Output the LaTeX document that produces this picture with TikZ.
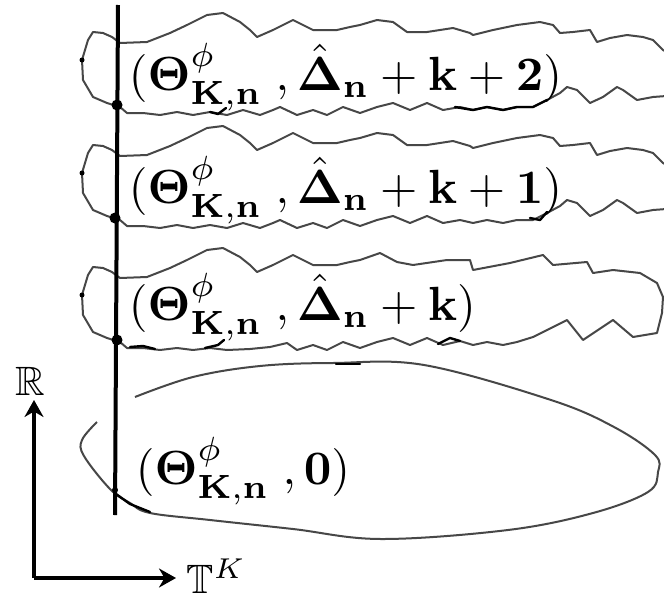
\documentclass[tikz,border=0pt]{standalone}
\usepackage{amsmath,amssymb,bm}
\usetikzlibrary{arrows.meta}
\begin{document}
\begin{tikzpicture}[x=1pt,y=-1pt,
  blob/.style={draw=black!72, line width=2pt, line join=round},
  ink/.style={draw=black, line width=2.4pt, line join=round, line cap=round},
  axis/.style={draw=black, line width=4.5pt, -{Stealth[length=17pt,width=19pt]}},
  lab/.style={anchor=base west, inner sep=0pt, scale=4.8},
  axlab/.style={inner sep=0pt, scale=4.1},
  dot/.style={circle, fill=black, inner sep=0pt}]
\useasboundingbox (0,0) rectangle (664,597);
\clip (0,0) rectangle (664,597);
\fill[white] (0,0) rectangle (664,597);
% wavy blobs (upper two)
\foreach \dy in {0,113}{
\draw[blob, shift={(0,\dy)}] (93,32) -- (103,33) -- (112,37) -- (120,43) -- (147,42) -- (170,33) -- (187,25) -- (207,15) -- (223,13) -- (240,22) -- (250,30) -- (257,37) -- (273,30) -- (293,20) -- (313,30) -- (337,30) -- (350,27) -- (360,25) -- (377,20) -- (393,22) -- (407,32) -- (427,32) -- (453,28) -- (470,33) -- (473,35) -- (493,30) -- (517,25) -- (540,22) -- (553,25) -- (560,33) -- (573,32) -- (590,30) -- (597,42) -- (610,38) -- (627,35) -- (643,37) -- (653,40) -- (663,50) -- (680,60)
 -- (680,95) -- (653,97) -- (637,100) -- (623,90) -- (617,87) -- (603,97) -- (590,103) -- (577,90) -- (567,87) -- (560,93) -- (547,100) -- (533,107) -- (517,107) -- (503,110) -- (487,107) -- (473,110) -- (460,107) -- (443,110) -- (427,103) -- (410,110) -- (393,103) -- (377,107) -- (360,113) -- (343,107) -- (327,115) -- (313,110) -- (297,115) -- (280,107) -- (273,110) -- (260,115) -- (243,110) -- (227,115) -- (210,112) -- (193,115) -- (177,112) -- (160,115) -- (143,113) -- (127,113) -- (120,107) -- (107,103) -- (93,97) -- (83,80) -- (82,60) -- (88,40) -- cycle;
\node[dot, minimum size=5pt, shift={(0,\dy)}] (ld\dy) at (82,60) {};
}
% third blob, closed on the right
\draw[blob] (93,267) -- (103,268) -- (112,272) -- (120,278) -- (147,277) -- (170,268) -- (187,260) -- (207,250) -- (223,248) -- (240,257) -- (250,265) -- (257,272) -- (273,265) -- (293,255) -- (313,265) -- (337,265) -- (350,262) -- (360,260) -- (380,253) -- (397,262) -- (413,265) -- (447,260) -- (470,260) -- (473,270) -- (510,263) -- (543,255) -- (553,265) -- (587,262) -- (593,273) -- (613,270) -- (640,273) -- (657,283) -- (663,297) -- (662,313) -- (657,333) -- (633,337) -- (613,320) -- (583,340) -- (567,320) -- (533,337) -- (517,342) -- (503,345) -- (487,342) -- (473,345) -- (460,341) -- (443,345) -- (427,338) -- (410,345) -- (393,338) -- (377,342) -- (360,348) -- (343,342) -- (327,350) -- (313,345) -- (297,350) -- (287,343) -- (270,347) -- (250,349) -- (227,350) -- (210,348) -- (193,350) -- (177,348) -- (160,350) -- (143,348) -- (127,348) -- (120,342) -- (107,338) -- (93,332) -- (83,315) -- (82,295) -- (88,275) -- cycle;
\node[dot, minimum size=5pt] (ld3) at (82,295) {};
% ink accents
\draw[ink] (455,107) -- (467,109) -- (473,110) -- (487,107) -- (503,110) -- (517,107) -- (533,107) -- (547,100);
\draw[ink] (210,112) -- (218,114) -- (226,108);
\draw[ink] (530,218) -- (540,220) -- (547,212);
\draw[ink] (130,347) -- (143,346) -- (155,349);
\draw[ink] (205,348) -- (218,345) -- (224,340);
\draw[ink] (438,344) -- (450,338) -- (460,341);
% ellipse
\draw[blob] plot[smooth, tension=0.6] coordinates {(135,397) (193,377) (260,366) (333,363) (424,365) (551,400) (614,427) (655,455) (658,472) (648,492) (593,513) (508,530) (381,539) (293,529) (210,520) (150,513) (130,503) (110,489) (84,456) (82,440) (97,422)};
\draw[ink] (336,364) -- (360,364);
\draw[ink] (116,494) -- (130,504) -- (150,512);
% vertical line
\coordinate (vt) at (118,5);
\coordinate (vb) at (115,515);
\draw[line width=4pt] (vt) -- (vb);
\node[dot, minimum size=11pt] (d1) at (117,105) {};
\node[dot, minimum size=11pt] (d2) at (115,218) {};
\node[dot, minimum size=11pt] (d3) at (117,340) {};
\node[dot, minimum size=6pt] (d4) at (115,490) {};
% labels
\node[lab] (l1) at (128,90) {$(\boldsymbol{\Theta}^{\phi}_{\mathbf{K},\mathbf{n}}\;,\hat{\boldsymbol{\Delta}}_{\mathbf{n}}+\mathbf{k}+\mathbf{2})$};
\node[lab] (l2) at (128,203) {$(\boldsymbol{\Theta}^{\phi}_{\mathbf{K},\mathbf{n}}\;,\hat{\boldsymbol{\Delta}}_{\mathbf{n}}+\mathbf{k}+\mathbf{1})$};
\node[lab] (l3) at (128,320) {$(\boldsymbol{\Theta}^{\phi}_{\mathbf{K},\mathbf{n}}\;,\hat{\boldsymbol{\Delta}}_{\mathbf{n}}+\mathbf{k})$};
\node[lab] (l0) at (135,484) {$(\boldsymbol{\Theta}^{\phi}_{\mathbf{K},\mathbf{n}}\;,\mathbf{0})$};
% axes
\coordinate (o) at (34,578);
\coordinate (ry) at (34,400);
\coordinate (rx) at (176,578);
\draw[axis] (o) -- (ry);
\draw[axis] (o) -- (rx);
\node[axlab, anchor=base] (R) at (30,395) {$\mathbb{R}$};
\node[axlab, anchor=base west] (T) at (186,593) {$\mathbb{T}^K$};
\end{tikzpicture}
\end{document}
